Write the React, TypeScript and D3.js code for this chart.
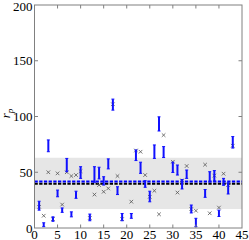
import React, { useEffect, useRef } from "react";
import * as d3 from "d3";

// positions along x, the error bar low/high ends and the cross marks
const xs = [1, 2, 3, 4, 5, 6, 7, 8, 9, 10, 12, 13, 14, 15, 16, 17, 18, 19, 21, 22, 23, 24, 25, 26, 27, 28, 30, 31, 32, 33, 34, 35, 37, 38, 39, 40, 41, 42, 43];
const barLow = [16, 1.2, 68.4, 6, 28, 14, 50.5, 10, 26.6, 44.5, 6.5, 41, 44, 38.5, 53, 105.7, 30, 6.5, 8.7, 60.5, 49, 36.5, 23.5, 62.4, 87, 63.2, 49.8, 47.5, 35, 44.5, 13.5, 1.2, 27.5, 41.3, 42, 10.3, 38.3, 30.5, 71.7];
const barHigh = [24, 4.7, 79, 10, 34, 18, 62.4, 14.5, 33, 55, 12.5, 55, 54.5, 46, 62, 115.6, 37, 13, 13, 70, 59, 42.4, 33, 74.5, 99.7, 73, 59, 56.5, 43.5, 52, 20.6, 8.7, 34.5, 50.5, 51.5, 16, 44.5, 40.5, 82];
const crossVals = [19, 11, 50, 8, 49, 21, 50, 46.6, 47.5, 51, 9, 30, 38.5, 32.5, 35.5, 111, 46.6, 8, 23.6, 69.5, 68.4, 47.5, 28, 33.4, 12.3, 83.3, 59.4, 31.8, 42.7, 55.6, 17, 15.5, 56.8, 13.2, 47, 18.3, 48.7, 38.5, 73.8];

const xTicks = [0, 5, 10, 15, 20, 25, 30, 35, 40, 45];
const yTicks = [0, 50, 100, 150, 200];
const bandRange = [17, 63];
const blueMean = 41.7;
const blackMean = 39.6;

const App = () => {
  const svgRef = useRef<SVGSVGElement>(null);

  useEffect(() => {
    const svg = d3.select(svgRef.current);
    svg.selectAll("*").remove();

    const width = 249;
    const height = 240;
    const margin = { top: 5, right: 7, bottom: 12, left: 34.5 };

    const x = d3.scaleLinear().domain([0, 45]).range([margin.left, width - margin.right]);
    const y = d3.scaleLinear().domain([0, 200]).range([height - margin.bottom, margin.top]);

    // grey band
    svg.append("rect")
      .attr("x", x(0))
      .attr("width", x(45) - x(0))
      .attr("y", y(bandRange[1]))
      .attr("height", y(bandRange[0]) - y(bandRange[1]))
      .attr("fill", "#e6e6e6");

    // dashed mean lines
    svg.append("line")
      .attr("x1", x(0)).attr("x2", x(45))
      .attr("y1", y(blackMean)).attr("y2", y(blackMean))
      .attr("stroke", "#000").attr("stroke-width", 2)
      .attr("stroke-dasharray", "3.3,1.4");
    svg.append("line")
      .attr("x1", x(0)).attr("x2", x(45))
      .attr("y1", y(blueMean)).attr("y2", y(blueMean))
      .attr("stroke", "#0000ff").attr("stroke-width", 2.2)
      .attr("stroke-dasharray", "3.3,1.4");

    const pts = xs.map((v, i) => ({ x: v, lo: barLow[i], hi: barHigh[i], c: crossVals[i] }));

    // crosses
    const s = 1.8;
    const cross = svg.append("g").attr("stroke", "#555").attr("stroke-width", 0.8);
    pts.forEach(d => {
      const cx = x(d.x), cy = y(d.c);
      cross.append("path").attr("d", `M${cx - s},${cy - s}L${cx + s},${cy + s}M${cx - s},${cy + s}L${cx + s},${cy - s}`);
    });

    // error bars
    const bars = svg.append("g").attr("stroke", "#1010ff");
    bars.selectAll("line.bar")
      .data(pts)
      .enter()
      .append("line")
      .attr("x1", d => x(d.x)).attr("x2", d => x(d.x))
      .attr("y1", d => y(d.lo)).attr("y2", d => y(d.hi))
      .attr("stroke-width", 2);
    pts.forEach(d => {
      [d.lo, d.hi].forEach(v => {
        bars.append("line")
          .attr("x1", x(d.x) - 1.5).attr("x2", x(d.x) + 1.5)
          .attr("y1", y(v)).attr("y2", y(v))
          .attr("stroke-width", 1);
      });
    });

    // frame
    svg.append("rect")
      .attr("x", x(0)).attr("y", y(200))
      .attr("width", x(45) - x(0)).attr("height", y(0) - y(200))
      .attr("fill", "none").attr("stroke", "#808080").attr("stroke-width", 1);

    const tickLen = 3.5;
    const ticks = svg.append("g").attr("stroke", "#808080").attr("stroke-width", 1);
    xTicks.slice(1, -1).forEach(t => {
      ticks.append("line").attr("x1", x(t)).attr("x2", x(t)).attr("y1", y(0)).attr("y2", y(0) - tickLen);
      ticks.append("line").attr("x1", x(t)).attr("x2", x(t)).attr("y1", y(200)).attr("y2", y(200) + tickLen);
    });
    yTicks.slice(1, -1).forEach(t => {
      ticks.append("line").attr("x1", x(0)).attr("x2", x(0) + tickLen).attr("y1", y(t)).attr("y2", y(t));
      ticks.append("line").attr("x1", x(45)).attr("x2", x(45) - tickLen).attr("y1", y(t)).attr("y2", y(t));
    });

    const font = "'Liberation Serif', 'DejaVu Serif', serif";
    svg.append("g").selectAll("text")
      .data(xTicks)
      .enter()
      .append("text")
      .attr("x", d => x(d))
      .attr("y", height - 1.5)
      .attr("text-anchor", "middle")
      .attr("font-family", font)
      .attr("font-size", 13)
      .text(d => d);

    svg.append("g").selectAll("text")
      .data(yTicks)
      .enter()
      .append("text")
      .attr("x", x(0) - 2)
      .attr("y", d => y(d) + (d === 200 ? 1 : 0))
      .attr("dy", "0.35em")
      .attr("text-anchor", "end")
      .attr("font-family", font)
      .attr("font-size", 13)
      .text(d => d);

    const yl = svg.append("text")
      .attr("transform", `translate(10,${y(100) - 3}) rotate(-90)`)
      .attr("text-anchor", "middle")
      .attr("font-family", font)
      .attr("font-size", 13)
      .attr("font-style", "italic");
    yl.append("tspan").text("r");
    yl.append("tspan").attr("dy", 3).attr("font-size", 9).text("p");
  }, []);

  return (
    <svg ref={svgRef} width={249} height={240} style={{ position: "absolute", left: 0, top: 0 }}></svg>
  );
};

export default App;
